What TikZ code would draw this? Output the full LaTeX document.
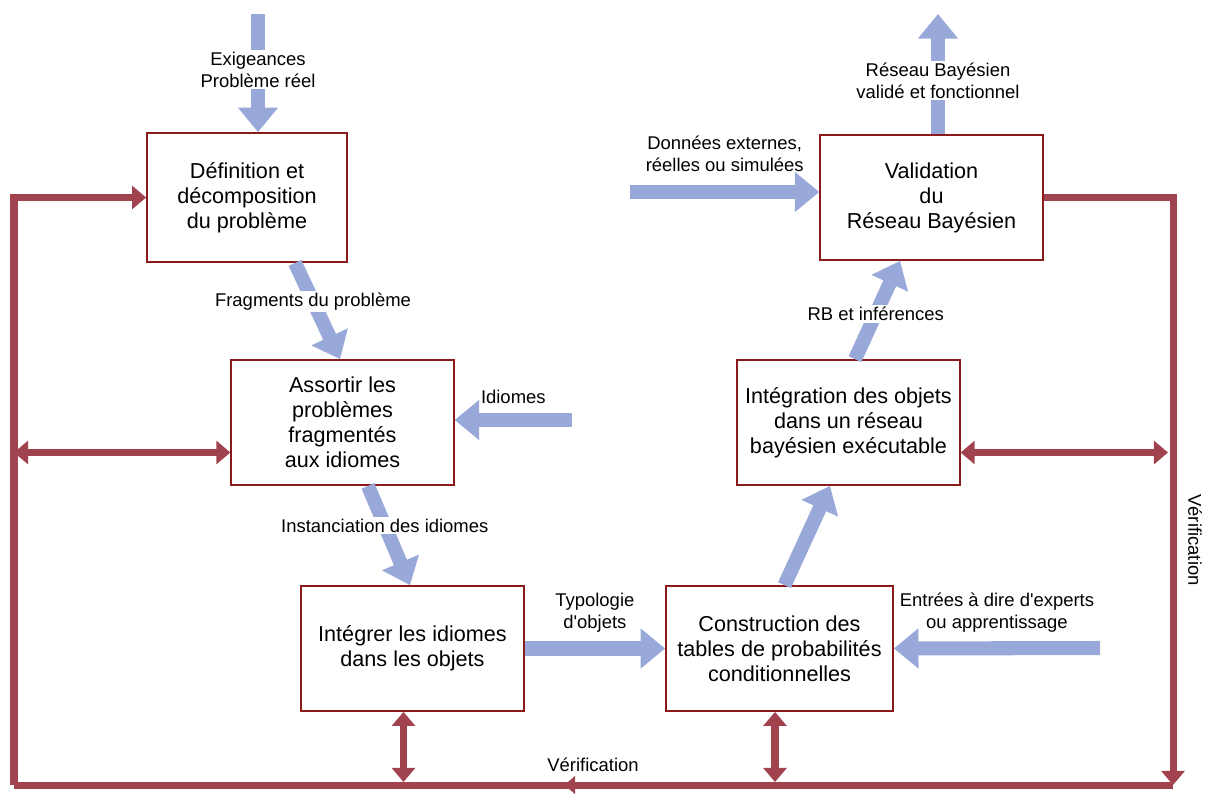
\documentclass[tikz,border=0pt]{standalone}
\usepackage{fontspec}
\setmainfont{Liberation Sans}
\usetikzlibrary{arrows.meta,positioning,calc,decorations.markings}
\definecolor{lavblue}{HTML}{98A8D8}
\definecolor{wine}{HTML}{A0434F}
\definecolor{darkwine}{HTML}{8B1A1A}

\begin{document}
\begin{tikzpicture}[
  x=0.02cm, y=-0.02cm,
  stage/.style={draw=darkwine, line width=1pt, fill=white, align=center,
    minimum width=4.45cm, minimum height=2.5cm, font=\fontsize{12.3}{14.2}\selectfont},
  flow/.style={-{Triangle[length=14pt,width=22pt]}, line width=8pt, lavblue},
  tag/.style={align=center, text=black, font=\fontsize{10.5}{12.5}\selectfont},
  cut/.style={tag, fill=white, inner sep=1pt},
  loop/.style={line width=4pt, wine},
  loopin/.style={loop, -{Triangle[length=8pt,width=13pt]}},
  both/.style={loop, {Triangle[length=8pt,width=13pt]}-{Triangle[length=8pt,width=13pt]}}
]
\useasboundingbox (0,0) rectangle (1206,795);

% etapes
\node[stage, minimum width=4cm, minimum height=2.58cm] (def) at (247,197.5) {Définition et\\décomposition\\du problème};
\node[stage] (ass) at (342.5,422.5) {Assortir les\\problèmes\\fragmentés\\aux idiomes};
\node[stage] (int) at (412.5,648.5) {Intégrer les idiomes\\dans les objets};
\node[stage, minimum width=4.54cm] (cpt) at (779.5,648.5) {Construction des\\tables de probabilités\\conditionnelles};
\node[stage] (rb) at (848.5,422.5) {Intégration des objets\\dans un réseau\\bayésien exécutable};
\node[stage] (val) at (931.5,197.5) {Validation\\du\\Réseau Bayésien};

% entrees et sorties libres
\coordinate (top) at (258,14);
\coordinate (idi) at (572,420);
\coordinate (ent) at (1100,648);
\coordinate (don) at (630,192);
\coordinate (out) at (938,14);

% boucle de verification
\coordinate (tl) at (14,197.5);
\coordinate (tr) at (1173,197.5);
\coordinate (bl) at (14,785);
\coordinate (br) at (1173,785);

% fleches bleues
\draw[flow] (top) -- node[cut, pos=0.47]{Exigeances\\Problème réel} (def.north -| top);
\draw[flow] ([xshift=0.96cm]def.south) -- node[cut, pos=0.4]{Fragments du problème} ([xshift=-0.05cm]ass.north);
\draw[flow] (idi) -- node[tag, above=2pt]{Idiomes} (ass.east |- idi);
\draw[flow] ([xshift=0.51cm]ass.south) -- node[cut, pos=0.4]{Instanciation des idiomes} ([xshift=-0.05cm]int.north);
\draw[flow] (int.east) -- node[tag, above=2pt]{Typologie\\d\textquotesingle objets} (cpt.west);
\draw[flow] (ent) -- node[tag, above=2pt]{Entrées à dire d\textquotesingle experts\\ou apprentissage} (cpt.east);
\draw[flow] ([xshift=0.1cm]cpt.north) -- ([xshift=-0.37cm]rb.south);
\draw[flow] ([xshift=0.13cm]rb.north) -- node[cut, pos=0.46]{RB et inférences} ([xshift=-0.63cm]val.south);
\draw[flow] (don) -- node[tag, above=4pt]{Données externes,\\réelles ou simulées} (val.west |- don);
\draw[flow] (val.north -| out) -- node[cut, pos=0.445]{Réseau Bayésien\\validé et fonctionnel} (out);

% retours de verification
\draw[loopin] (val.east) -- (tr) -- (br);
\draw[loop, postaction={decorate, decoration={markings,
  mark=at position 0.525 with {\arrow{Triangle[length=6pt,width=10pt]}}}}] (br) -- (bl);
\draw[loopin] (bl) -- (tl) -- (def.west);
\draw[both] ([yshift=-0.6cm]ass.west -| bl) -- ([yshift=-0.6cm]ass.west);
\draw[both] ([yshift=-0.6cm]rb.east) -- ([yshift=-0.6cm,xshift=-0.1cm]rb.east -| br);
\draw[both] ([xshift=-0.18cm]int.south) -- ([xshift=-0.18cm,yshift=0.06cm]int.south |- bl);
\draw[both] ([xshift=-0.09cm]cpt.south) -- ([xshift=-0.09cm,yshift=0.06cm]cpt.south |- bl);
\node[tag] (verb) at (593,765) {Vérification};
\node[tag, rotate=-90] (verr) at (1195,540) {Vérification};
\end{tikzpicture}
\end{document}
